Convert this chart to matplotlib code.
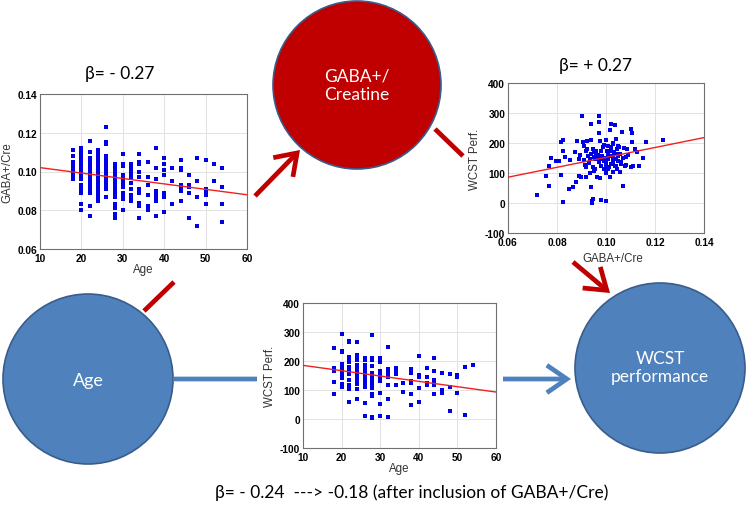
import matplotlib
matplotlib.use("Agg")
import matplotlib.pyplot as plt
from matplotlib.patches import Circle, FancyArrowPatch

W, H = 749, 506

# top left panel: GABA+/Cre against age
gaba_by_age = {
    18: [0.111, 0.108, 0.105, 0.103, 0.101, 0.100, 0.099, 0.098, 0.097, 0.096],
    20: [0.112, 0.111, 0.110, 0.108, 0.106, 0.104, 0.103, 0.101, 0.099, 0.098, 0.097, 0.096, 0.093, 0.091, 0.090, 0.089, 0.083, 0.080],
    22: [0.116, 0.110, 0.107, 0.105, 0.103, 0.101, 0.099, 0.097, 0.096, 0.095, 0.093, 0.091, 0.089, 0.082, 0.077],
    24: [0.111, 0.110, 0.108, 0.107, 0.105, 0.104, 0.102, 0.101, 0.100, 0.099, 0.098, 0.097, 0.096, 0.095, 0.093, 0.091, 0.090, 0.088, 0.086, 0.085],
    26: [0.123, 0.115, 0.114, 0.108, 0.107, 0.105, 0.104, 0.103, 0.102, 0.101, 0.100, 0.099, 0.098, 0.097, 0.096, 0.094, 0.092, 0.091, 0.087],
    28: [0.104, 0.103, 0.101, 0.100, 0.099, 0.098, 0.097, 0.096, 0.095, 0.094, 0.093, 0.092, 0.091, 0.089, 0.087, 0.083, 0.082, 0.081, 0.078, 0.076],
    30: [0.109, 0.104, 0.103, 0.098, 0.097, 0.095, 0.094, 0.092, 0.089, 0.087, 0.086, 0.080],
    32: [0.104, 0.103, 0.101, 0.099, 0.097, 0.094, 0.091, 0.088, 0.087, 0.086, 0.085],
    34: [0.109, 0.105, 0.104, 0.100, 0.097, 0.091, 0.089, 0.084, 0.082, 0.076],
    36: [0.105, 0.097, 0.093, 0.088, 0.082, 0.080],
    38: [0.112, 0.102, 0.096, 0.090, 0.088, 0.087, 0.085, 0.077],
    40: [0.107, 0.104, 0.101, 0.098, 0.089, 0.087, 0.079],
    42: [0.102, 0.095, 0.083],
    44: [0.106, 0.102, 0.101, 0.093, 0.092, 0.091, 0.090, 0.085],
    46: [0.098, 0.093, 0.092, 0.089, 0.076],
    48: [0.107, 0.095, 0.087, 0.072],
    50: [0.106, 0.091, 0.089, 0.088, 0.083],
    52: [0.104, 0.095],
    54: [0.102, 0.092, 0.083, 0.074],
}
fit_age_gaba = ([10, 60], [0.102, 0.088])

# top right panel: WCST against GABA+/Cre
gaba_pts = [0.0717, 0.0755, 0.0766, 0.0769, 0.0777, 0.0794, 0.0808, 0.0815, 0.0818, 0.0825,
            0.0825, 0.0825, 0.0833, 0.0849, 0.0854, 0.0867, 0.0875, 0.0879, 0.0882, 0.0888,
            0.0889, 0.0894, 0.0898, 0.0903, 0.0905, 0.0909, 0.0913, 0.0918, 0.0923, 0.0923,
            0.0927, 0.0933, 0.0935, 0.0938, 0.0938, 0.0939, 0.0941, 0.0943, 0.0945, 0.0945,
            0.0948, 0.0952, 0.0954, 0.0957, 0.0961, 0.0964, 0.0968, 0.0971, 0.0972, 0.0972,
            0.0973, 0.0975, 0.0977, 0.0979, 0.0980, 0.0983, 0.0986, 0.0988, 0.0991, 0.0998,
            0.0999, 0.1002, 0.1005, 0.1009, 0.1013, 0.1016, 0.1018, 0.1020, 0.1022, 0.1025,
            0.1027, 0.1029, 0.1032, 0.1035, 0.1036, 0.1039, 0.1040, 0.1043, 0.1046, 0.1048,
            0.1051, 0.1054, 0.1057, 0.1059, 0.1063, 0.1066, 0.1069, 0.1073, 0.1077, 0.1080,
            0.1084, 0.1100, 0.1104, 0.1106, 0.1108, 0.1111, 0.1118, 0.1125, 0.1134, 0.1149,
            0.1162, 0.1231, 0.096, 0.097, 0.099, 0.100, 0.101, 0.101, 0.102, 0.102,
            0.103, 0.103, 0.104, 0.104, 0.105, 0.106, 0.098, 0.099, 0.095, 0.094,
            0.093, 0.092, 0.100, 0.101, 0.107, 0.108, 0.109, 0.095, 0.091, 0.092,
            0.100, 0.103]
wcst_pts = [27, 90, 56, 123, 149, 141, 141, 92, 202, 211,
            174, 4, 152, 47, 144, 54, 171, 69, 208, 146,
            89, 161, 88, 291, 204, 189, 127, 86, 180, 208,
            158, 147, 100, 263, 210, 52, 8, 0, 13, 119,
            180, 169, 147, 113, 174, 86, 161, 136, 289, 269,
            233, 208, 82, 11, 124, 158, 186, 147, 113, 8,
            210, 136, 174, 147, 119, 86, 244, 263, 186, 158,
            136, 197, 169, 260, 124, 213, 147, 180, 113, 158,
            141, 186, 102, 163, 136, 236, 58, 182, 124, 152,
            180, 119, 247, 233, 202, 122, 180, 169, 124, 149,
            202, 211, 165, 150, 140, 125, 160, 190, 130, 175,
            150, 200, 125, 165, 190, 130, 175, 195, 155, 165,
            135, 175, 150, 115, 150, 128, 160, 108, 145, 120,
            100, 105]
fit_gaba_wcst = ([0.06, 0.14], [86, 218])

# bottom panel: WCST against age
wcst_by_age = {
    18: [244, 177, 170, 165, 126, 86],
    20: [294, 236, 232, 190, 182, 177, 171, 162, 155, 141, 122, 116, 110],
    22: [268, 264, 213, 205, 198, 179, 173, 164, 156, 133, 116, 110, 102, 57],
    24: [267, 219, 213, 205, 187, 182, 170, 164, 156, 148, 139, 130, 122, 104, 70],
    26: [211, 202, 187, 179, 171, 164, 153, 144, 136, 127, 116, 110, 56, 10],
    28: [289, 211, 204, 182, 159, 153, 148, 141, 136, 125, 118, 107, 86, 81, 8, 3],
    30: [210, 196, 167, 162, 148, 139, 130, 91, 52, 11],
    32: [247, 173, 165, 156, 150, 144, 118, 70, 8],
    34: [175, 162, 154, 117],
    36: [125, 94],
    38: [172, 158, 130, 124, 87, 48],
    40: [217, 153, 144, 107, 58],
    42: [175, 144, 124, 118],
    44: [210, 165, 135, 130, 116, 86],
    46: [159, 99, 91],
    48: [156, 112, 28],
    50: [153, 144, 89],
    52: [180, 15],
    54: [187],
}
fit_age_wcst = ([10, 60], [185, 93])

beta_a = "β= - 0.27"
beta_b = "β= + 0.27"
beta_c = "β= - 0.24  ---> -0.18 (after inclusion of GABA+/Cre)"

RED = "#c00000"
BLUE = "#4f81bd"
EDGE = "#385d8a"
BIG = ["Lato", "DejaVu Sans"]


def flatten(groups):
    xs, ys = [], []
    for k, vals in groups.items():
        xs += [k] * len(vals)
        ys += vals
    return xs, ys


def px_axes(fig, x0, y0, x1, y1):
    return fig.add_axes([x0 / W, 1 - y1 / H, (x1 - x0) / W, (y1 - y0) / H])


def panel(ax, xs, ys, fit, xticks, yticks, xfmt, yfmt, xlabel, ylabel, xpad, ypad):
    ax.plot(xs, ys, "s", color="#0000e6", ms=2.2, mew=0, zorder=3)
    ax.plot(fit[0], fit[1], "-", color="#f02020", lw=1.0, zorder=4)
    ax.set_xlim(xticks[0], xticks[-1])
    ax.set_ylim(yticks[0], yticks[-1])
    ax.set_xticks(xticks, [xfmt % t for t in xticks], fontweight="bold",
                  fontsize=7.3, family="Liberation Sans")
    ax.set_yticks(yticks, [yfmt % t for t in yticks], fontweight="bold",
                  fontsize=7.3, family="Liberation Sans")
    ax.tick_params(length=0, pad=2)
    ax.tick_params(axis="x", pad=3)
    ax.grid(color="#e2e2e2", lw=0.7)
    ax.set_axisbelow(True)
    for s in ax.spines.values():
        s.set_color("#707070")
        s.set_linewidth(0.8)
    ax.set_xlabel(xlabel, fontsize=8.3, color="#333333", labelpad=xpad, family="Liberation Sans")
    ax.set_ylabel(ylabel, fontsize=8.3, color="#333333", labelpad=ypad, family="Liberation Sans")


def arrow(bg, p0, p1, color, head=True):
    style = "->,head_length=0.8,head_width=0.55" if head else "-"
    bg.add_patch(FancyArrowPatch(p0, p1, arrowstyle=style, mutation_scale=18,
                                 color=color, lw=3.4, capstyle="butt",
                                 joinstyle="miter", shrinkA=0, shrinkB=0))


fig = plt.figure(figsize=(W / 100, H / 100), dpi=100)

# diagram layer in pixel coordinates
bg = fig.add_axes([0, 0, 1, 1], zorder=-1)
bg.set_xlim(0, W)
bg.set_ylim(H, 0)
bg.axis("off")

bg.add_patch(Circle((357, 86), 84, fc=RED, ec=EDGE, lw=1.2))
bg.add_patch(Circle((88, 380), 85, fc=BLUE, ec=EDGE, lw=1.2))
bg.add_patch(Circle((660, 369), 85, fc=BLUE, ec=EDGE, lw=1.2))
bg.text(357, 86, "GABA+/\nCreatine", color="white", fontsize=12.5, family=BIG,
        ha="center", va="center", linespacing=1.2)
bg.text(88, 381, "Age", color="white", fontsize=13, family=BIG, ha="center", va="center")
bg.text(660, 368, "WCST\nperformance", color="white", fontsize=12.5, family=BIG,
        ha="center", va="center", linespacing=1.2)

arrow(bg, (255, 197), (300, 151), RED)
arrow(bg, (435, 130), (463, 157), RED, head=False)
arrow(bg, (573, 263), (610, 294), RED)
arrow(bg, (144, 312), (174, 283), RED, head=False)
arrow(bg, (174, 380), (257, 380), BLUE, head=False)
arrow(bg, (503, 380), (571, 380), BLUE)

bg.text(120, 74, beta_a, fontsize=12.5, family=BIG, ha="center", va="center")
bg.text(596, 66, beta_b, fontsize=12.5, family=BIG, ha="center", va="center")
bg.text(412, 493, beta_c, fontsize=12.5, family=BIG, ha="center", va="center")

ax1 = px_axes(fig, 40, 95, 247, 250)
x1, y1 = flatten(gaba_by_age)
panel(ax1, x1, y1, fit_age_gaba, [10, 20, 30, 40, 50, 60],
      [0.06, 0.08, 0.10, 0.12, 0.14], "%d", "%.2f", "Age", "GABA+/Cre", 0, 3)

ax2 = px_axes(fig, 508, 84, 704, 234)
panel(ax2, gaba_pts, wcst_pts, fit_gaba_wcst, [0.06, 0.08, 0.10, 0.12, 0.14],
      [-100, 0, 100, 200, 300, 400], "%.2f", "%d", "GABA+/Cre", "WCST Perf.", 6, 3)
ax2.xaxis.set_label_coords(0.535, -0.13)

ax3 = px_axes(fig, 303, 304, 496, 449)
x3, y3 = flatten(wcst_by_age)
panel(ax3, x3, y3, fit_age_wcst, [10, 20, 30, 40, 50, 60],
      [-100, 0, 100, 200, 300, 400], "%d", "%d", "Age", "WCST Perf.", 0, 3)

fig.savefig("out.png", dpi=100)
